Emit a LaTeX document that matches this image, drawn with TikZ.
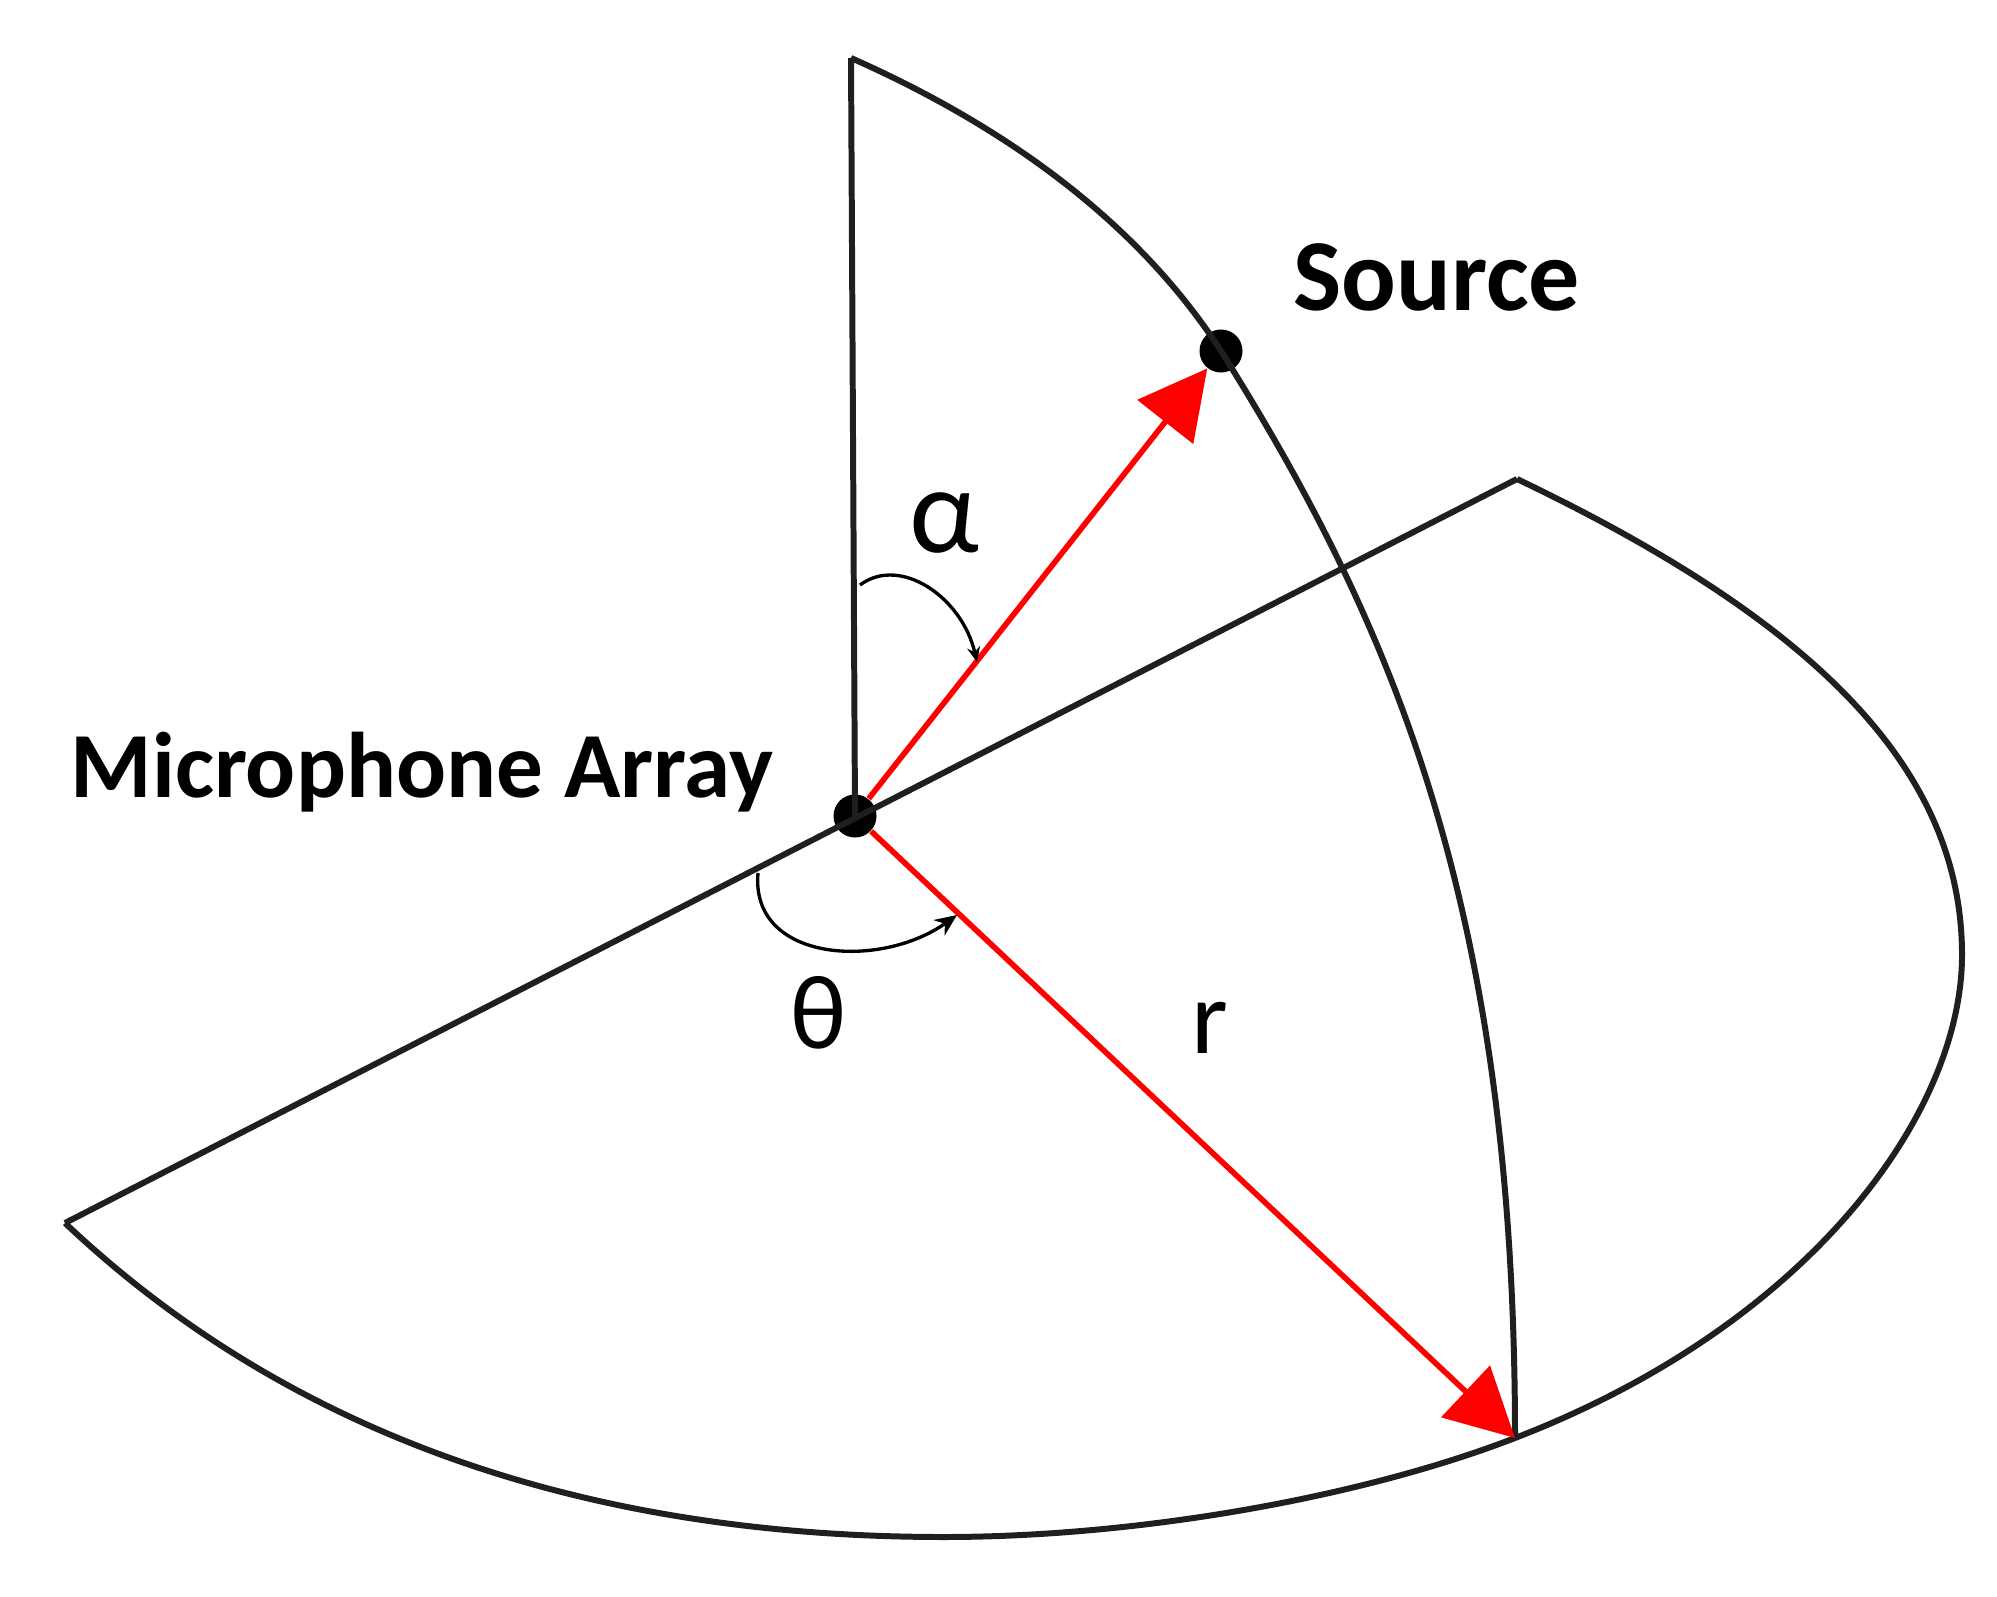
\documentclass[tikz,border=0pt]{standalone}
\usepackage{fontspec}
\setmainfont{Carlito}
\usetikzlibrary{arrows.meta}
\begin{document}
\begin{tikzpicture}[x=0.01cm,y=-0.01cm,
  frame/.style={line width=1.7pt, draw=black!88, line join=round},
  vec/.style={line width=1.6pt, draw=red, -{Triangle[length=0.68cm,width=0.7cm,fill=red]}},
  angarc/.style={line width=0.95pt, draw=black},
  dot/.style={circle, fill=black, minimum size=0.43cm, inner sep=0pt},
  lbl/.style={inner sep=0pt, anchor=base west}
]
\useasboundingbox (0,0) rectangle (1997,1597);
\coordinate (T) at (851,58);
\coordinate (L) at (65,1223);
\coordinate (R) at (1517,479);
\coordinate (B) at (1515,1438);
\coordinate (E) at (1962,955);
\coordinate (Bt) at (944,1537);
\node[dot] (M) at (855,816) {};
\node[dot] (S) at (1221,351) {};

% vertical line and horizontal diameter
\draw[frame] (T) -- (M.center);
\draw[frame] (L) -- (R);
% vertical quarter arc
\draw[frame] (T) .. controls (1000,124) and (1135,218) .. (S.center)
                 .. controls (1394,627) and (1515,910) .. (B);
% horizontal disk outline
\draw[frame] (R) .. controls (1812,620) and (1962,767) .. (E)
                 .. controls (1962,1111) and (1813,1323) .. (B)
                 .. controls (1357,1499) and (1134,1537) .. (Bt)
                 .. controls (579,1537) and (285,1431) .. (L);

% red vectors
\draw[vec] (M) -- (S);
\draw[vec] (M) -- (B);

% angle arcs
\coordinate (a1) at (860,585);
\coordinate (a2) at (977,662);
\draw[angarc, -{Stealth[length=0.15cm,width=0.13cm]}] (a1) .. controls (900,555) and (962,597) .. (a2);
\coordinate (t1) at (758,873);
\coordinate (t2) at (957,915);
\draw[angarc, -{Stealth[length=0.22cm,width=0.19cm]}] (t1) .. controls (750,962) and (880,970) .. (t2);

% labels
\node[lbl, font=\fontsize{26.5}{30}\selectfont\bfseries] (mic) at (70,797) {Microphone Array};
\node[lbl, font=\fontsize{29}{33}\selectfont\bfseries] (src) at (1293,310) {Source};
\node[lbl, font=\fontsize{35}{40}\selectfont] (alpha) at (909,552) {α};
\node[lbl, font=\fontsize{30}{34}\selectfont] (theta) at (790,1048) {θ};
\node[lbl, font=\fontsize{30}{34}\selectfont] (rr) at (1191,1053) {r};
\end{tikzpicture}
\end{document}
